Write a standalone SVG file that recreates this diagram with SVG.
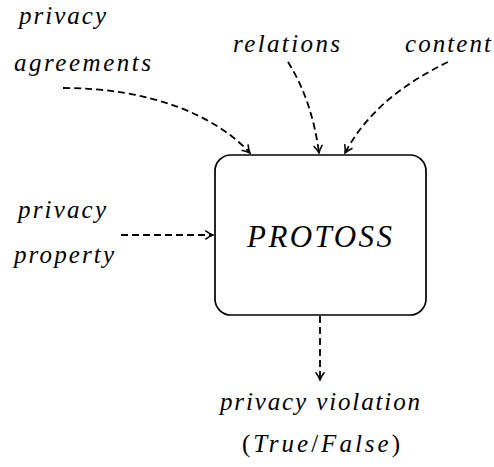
<svg xmlns="http://www.w3.org/2000/svg" width="494" height="467" viewBox="0 0 494 467">
<defs>
<marker id="to" viewBox="0 0 10 10" refX="9" refY="5" markerWidth="11" markerHeight="11" markerUnits="userSpaceOnUse" orient="auto">
<path d="M2,1 Q6,4 9,5 Q6,6 2,9" fill="none" stroke="#000" stroke-width="1.4"/>
</marker>
</defs>
<style>
.edge{fill:none;stroke:#000;stroke-width:1.8;stroke-dasharray:7 4;marker-end:url(#to)}
.box{fill:#fff;stroke:#000;stroke-width:1.7}
</style>
<rect width="494" height="467" fill="#fff"/>
<g id="connectors">
<path class="edge" d="M63,88 C150,88 215,115 250,153"/>
<path class="edge" d="M288,62 Q312,100 319,153"/>
<path class="edge" d="M448,62 C400,85 365,115 345,153"/>
<path class="edge" d="M121,235 L213,235"/>
<path class="edge" d="M320,316 L320,380"/>
</g>
<g font-family="Liberation Serif" font-style="italic" font-size="25" fill="#000">
<g id="protoss">
<rect class="box" x="215" y="155" width="211" height="160" rx="16" ry="16"/>
<text x="319.5" y="247" text-anchor="middle" font-size="31" textLength="145" lengthAdjust="spacing">PROTOSS</text>
</g>
<g id="privacy-agreements">
<text x="19" y="24" textLength="87" lengthAdjust="spacing">privacy</text>
<text x="14" y="71" textLength="137" lengthAdjust="spacing">agreements</text>
</g>
<g id="relations">
<text x="233" y="52" textLength="107" lengthAdjust="spacing">relations</text>
</g>
<g id="content">
<text x="405" y="52" textLength="86" lengthAdjust="spacing">content</text>
</g>
<g id="privacy-property">
<text x="18" y="218" textLength="88" lengthAdjust="spacing">privacy</text>
<text x="14" y="263" textLength="100" lengthAdjust="spacing">property</text>
</g>
<g id="privacy-violation">
<text x="220" y="410" textLength="200" lengthAdjust="spacing">privacy violation</text>
<text x="242" y="452" textLength="158" lengthAdjust="spacing"><tspan font-style="normal">(</tspan>True<tspan font-style="normal">/</tspan>False<tspan font-style="normal">)</tspan></text>
</g>
</g>
</svg>
